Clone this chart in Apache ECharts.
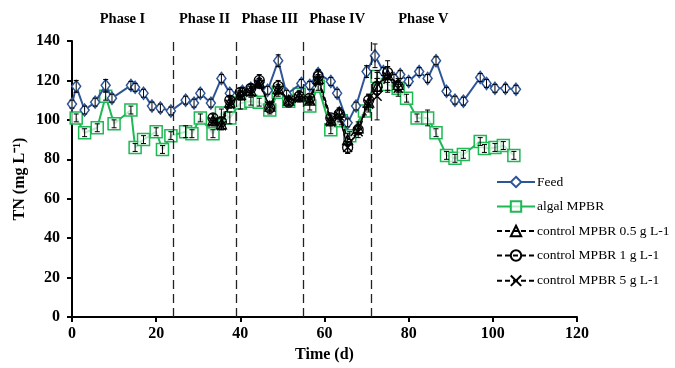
<!DOCTYPE html>
<html>
<head>
<meta charset="utf-8">
<script src="https://cdn.jsdelivr.net/npm/echarts@6/dist/echarts.min.js"></script>
<style>html,body{margin:0;padding:0;background:#fff;}#c{width:675px;height:368px;}</style>
</head>
<body>
<div id="c"></div>
<script>
// ---- data ----
const feedDays = [0,1,3,5.5,8,9.5,14,15,17,19,21,23.5,27,29,30.5,33,35.5,37.5,40.5,42.5,44.5,46.5,49,51,54.5,56.5,58.5,61.5,63,65.5,67.5,70,72,74,76.5,78,80,82.5,84.5,86.5,89,91,93,97,98.5,100.5,103,105.5];
const feedVals = [108,117,105,109,117.5,111,117.5,116.5,113.5,107,106,104.5,110,108.5,113.5,108.5,121,113.5,114.5,116,119,115,130,113,118.5,117.5,123.5,119.5,113.5,98.5,107,124.5,132.5,124.5,121,123,119.5,124.5,121,130,114.5,110,109.5,121.5,118.5,116,116,115.5];
const feedErr  = [2,3,2,2,3,2,2,2,2,2,2,2,2,2,2,2,2,2,2,2,2,2,3,2,2,2,2,2,2,2,2,3,6,2,2,2,2,2,2,2,2,2,2,2,2,2,2,2];

const algalDays = [1,3,6,8,10,14,15,17,20,21.5,23.5,27,28.5,30.5,33.5,35.5,37.5,40,42.5,44.5,47,49,51.5,54,56.5,58.5,61.5,64,66,69.5,72.5,75,77.5,79.5,82,84.5,86.5,89,91,93,97,98,100.5,102.5,105];
const algalVals = [101,93.5,96,112,98,105,86,90,94,85,92,94,93,101,93,103.5,101,108.5,109.5,109,105,114,109.5,113,107,117,95,99.5,92,104.5,122,118,116,111,101,101,93.5,82,80.5,82.5,89,85.5,86,87,82];
const algalErr  = [2,2,2,2,2,2,2,2,2,2,2,3,2,2,2,2,3,3,2,2,2,2,2,2,2,2,2,2,2,2,3,3,2,2,2,4,2,2,2,2,2,2,2,2,2];

const ctrlDays = [33.5,35.5,37.5,40,42.5,44.5,47,49,51.5,54,56.5,58.5,61.5,63.5,65.5,68,70.5,72.5,75,77.5];
const c05Vals = [100,98,109,113,115,119,107,116,110,112,110,121,100,104,90,96,109,117,123,118];
const c1Vals  = [101,99,110,114,116,120,106,117,109,112,111,122,101,103,86,95,110,117,124,117];
const c5Vals  = [99,97,108,112,114,118,107,115,110,111,110,120,99,102,86,94,108,112,122,116];
const c05Err  = [3,3,3,2,2,2,2,2,2,2,2,2,2,2,3,3,4,4,4,3];
const c1Err   = [2,2,2,2,2,3,2,3,2,2,2,3,2,3,3,2,3,4,3,2];
const c5Err   = [2,2,2,2,2,2,2,2,2,2,2,2,2,3,3,3,4,12,8,4];

const phaseNames = ['Phase I','Phase II','Phase III','Phase IV','Phase V'];
const phaseEdges = [0,24,39,55,71,96];

const xTicks = {min:0, max:120, interval:20};
const yTicks = {min:0, max:140, interval:20};

// ---- build ----
const FONT = 'Liberation Serif';
const pair = (xs, ys) => xs.map((x,i)=>[x, ys[i]]);
const triple = (xs, ys, es) => xs.map((x,i)=>[x, ys[i], es[i]]);

function errSeries(data){
  return {
    type:'custom', silent:true, z:5, data:data,
    renderItem:function(params, api){
      const x=api.value(0), y=api.value(1), e=api.value(2);
      const t=api.coord([x,y+e]), b=api.coord([x,y-e]);
      const w=2.5;
      const st={stroke:'#000', lineWidth:1};
      return {type:'group', children:[
        {type:'line', shape:{x1:t[0],y1:t[1],x2:b[0],y2:b[1]}, style:st},
        {type:'line', shape:{x1:t[0]-w,y1:t[1],x2:t[0]+w,y2:t[1]}, style:st},
        {type:'line', shape:{x1:b[0]-w,y1:b[1],x2:b[0]+w,y2:b[1]}, style:st}
      ]};
    }
  };
}

const BLUE='#2E5597', GREEN='#1DB954';
const blackDash=[5,3];

const phaseAreas = phaseNames.map((n,i)=>[{name:n, xAxis:phaseEdges[i]},{xAxis:phaseEdges[i+1]}]);
const dashLines = phaseEdges.slice(1,5).map(v=>({xAxis:v}));

const option = {
  animation:false,
  backgroundColor:'#fff',
  grid:{left:72, right:98, top:41, bottom:49},
  xAxis:{
    type:'value', min:xTicks.min, max:xTicks.max, interval:xTicks.interval,
    name:'Time (d)', nameLocation:'middle', nameGap:28,
    nameTextStyle:{fontFamily:FONT, fontWeight:'bold', fontSize:16, color:'#000'},
    axisLine:{onZero:false, lineStyle:{color:'#000', width:2}},
    axisTick:{show:true, length:5, lineStyle:{color:'#000', width:2}},
    axisLabel:{fontFamily:FONT, fontWeight:'bold', fontSize:16, color:'#000', margin:9},
    splitLine:{show:false}
  },
  yAxis:{
    type:'value', min:yTicks.min, max:yTicks.max, interval:yTicks.interval,
    name:'TN (mg L\u207B\u00B9)', nameLocation:'middle', nameGap:44, nameRotate:90,
    nameMoveOverlap:false,
    nameTextStyle:{fontFamily:FONT, fontWeight:'bold', fontSize:16, color:'#000'},
    axisLine:{show:true, lineStyle:{color:'#000', width:2}},
    axisTick:{show:true, length:5, lineStyle:{color:'#000', width:2}},
    axisLabel:{fontFamily:FONT, fontWeight:'bold', fontSize:16, color:'#000', margin:12},
    splitLine:{show:false}
  },
  legend:{
    orient:'vertical', left:491, top:170, itemGap:10.5, itemWidth:38, itemHeight:13,
    textStyle:{fontFamily:FONT, fontSize:13.5, color:'#000', padding:[0,0,0,-3]},
    data:['Feed','algal MPBR','control MPBR 0.5 g L-1','control MPBR 1 g L-1','control MPBR 5 g L-1']
  },
  series:[
    {
      name:'Feed', type:'line', data:pair(feedDays, feedVals), z:3,
      symbol:'diamond', symbolSize:[9,12],
      lineStyle:{color:BLUE, width:2},
      itemStyle:{color:'#fff', borderColor:BLUE, borderWidth:1.5},
      markLine:{silent:true, symbol:'none', label:{show:false},
        lineStyle:{color:'#222', type:[9,5], width:1.3}, data:dashLines},
      markArea:{silent:true, itemStyle:{color:'rgba(0,0,0,0)'},
        label:{show:true, position:'top', distance:14, fontFamily:FONT, fontWeight:'bold', fontSize:14.5, color:'#000'},
        data:phaseAreas}
    },
    {
      name:'algal MPBR', type:'line', data:pair(algalDays, algalVals), z:2,
      symbol:'rect', symbolSize:12,
      lineStyle:{color:GREEN, width:2},
      itemStyle:{color:'rgba(255,255,255,0.7)', borderColor:GREEN, borderWidth:1.5}
    },
    {
      name:'control MPBR 0.5 g L-1', type:'line', data:pair(ctrlDays, c05Vals), z:4,
      symbol:'triangle', symbolSize:10,
      lineStyle:{color:'#000', width:1.5, type:blackDash},
      itemStyle:{color:'rgba(255,255,255,0)', borderColor:'#000', borderWidth:1.3}
    },
    {
      name:'control MPBR 1 g L-1', type:'line', data:pair(ctrlDays, c1Vals), z:4,
      symbol:'circle', symbolSize:10,
      lineStyle:{color:'#000', width:1.5, type:blackDash},
      itemStyle:{color:'rgba(255,255,255,0)', borderColor:'#000', borderWidth:1.3}
    },
    {
      name:'control MPBR 5 g L-1', type:'line', data:pair(ctrlDays, c5Vals), z:4,
      symbol:'path://M0,0L10,10M10,0L0,10', symbolSize:9,
      lineStyle:{color:'#000', width:1.5, type:blackDash},
      itemStyle:{color:'none', borderColor:'#000', borderWidth:1.5}
    },
    errSeries(triple(feedDays, feedVals, feedErr)),
    errSeries(triple(algalDays, algalVals, algalErr)),
    errSeries(triple(ctrlDays, c05Vals, c05Err)),
    errSeries(triple(ctrlDays, c1Vals, c1Err)),
    errSeries(triple(ctrlDays, c5Vals, c5Err))
  ]
};
const chart = echarts.init(document.getElementById('c'), null, {renderer:'canvas'});
chart.setOption(option);
</script>
</body>
</html>
